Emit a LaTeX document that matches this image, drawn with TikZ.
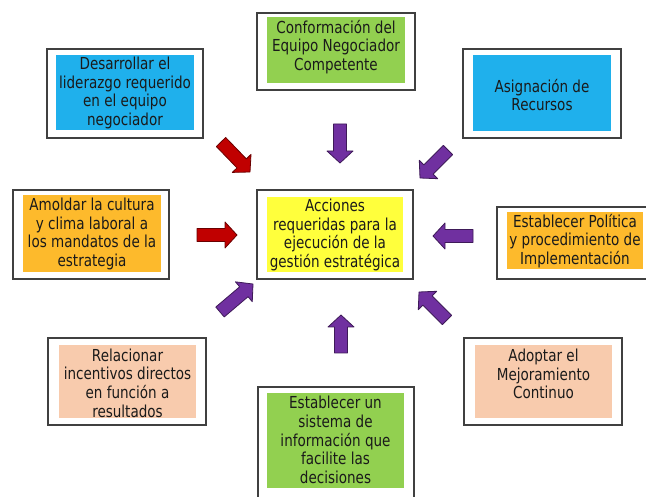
\documentclass[tikz,border=0pt]{standalone}
\usepackage{fontspec}
\setmainfont{DejaVu Sans}[FakeStretch=0.82]
\usetikzlibrary{calc}
\definecolor{cblue}{HTML}{1FB0EC}
\definecolor{cgreen}{HTML}{92D050}
\definecolor{cyellow}{HTML}{FFFF3C}
\definecolor{corange}{HTML}{FDBA2C}
\definecolor{cpeach}{HTML}{F8CBAD}
\definecolor{arrred}{HTML}{C00000}
\definecolor{arrpur}{HTML}{7030A0}
\definecolor{txtcol}{HTML}{1A1A1A}
\tikzset{
  outerbox/.style={draw=black!75, line width=1.2pt, fill=white},
  txt/.style={align=center, font=\fontsize{16.5}{18.6}\selectfont, text=txtcol, inner sep=0pt},
  redarr/.style={fill=arrred, draw=arrred!55!black, line width=0.8pt, line join=round},
  purarr/.style={fill=arrpur, draw=arrpur!55!black, line width=0.8pt, line join=round},
}
\newcommand{\blkarrow}[3]{%
  \path ($(#3)!12pt!(#2)$) coordinate (#2b);
  \draw[#1] ($(#2)!6.5pt!90:(#3)$) -- ($(#2b)!6.5pt!90:(#3)$) -- ($(#2b)!13pt!90:(#3)$)
    -- (#3) -- ($(#2b)!13pt!-90:(#3)$) -- ($(#2b)!6.5pt!-90:(#3)$) -- ($(#2)!6.5pt!-90:(#3)$) -- cycle;}
\begin{document}
\begin{tikzpicture}[x=1pt,y=-1pt]
\useasboundingbox (0,0) rectangle (646,497);
% boxes
\draw[outerbox] (47,49) rectangle (203,138);
\fill[cblue] (56,55) rectangle (194,130);
\node[txt] (lead) at (125,93) {Desarrollar el\\liderazgo requerido\\en el equipo\\negociador};

\draw[outerbox] (257,13) rectangle (415,90);
\fill[cgreen] (267,17) rectangle (405,83);
\node[txt] (conf) at (336,47) {Conformación del\\Equipo Negociador\\Competente};

\draw[outerbox] (463,49) rectangle (621,138);
\fill[cblue] (473,55) rectangle (611,131);
\node[txt] (asig) at (542,95) {Asignación de\\Recursos};

\draw[outerbox] (13,190) rectangle (169,279);
\fill[corange] (23,195) rectangle (161,272);
\node[txt] (amol) at (92,234) {Amoldar la cultura\\y clima laboral a\\los mandatos de la\\estrategia};

\draw[outerbox] (257,190) rectangle (413,279);
\fill[cyellow] (267,197) rectangle (403,272);
\node[txt] (acc) at (335,235) {Acciones\\requeridas para la\\ejecución de la\\gestión estratégica};

\draw[outerbox] (497,207) rectangle (650,279);
\fill[corange] (507,212) rectangle (643,269);
\node[txt] (pol) at (575,241) {Establecer Política\\y procedimiento de\\Implementación};

\draw[outerbox] (48,338) rectangle (206,425);
\fill[cpeach] (59,345) rectangle (196,418);
\node[txt] (rel) at (127.5,383) {Relacionar\\incentivos directos\\en función a\\resultados};

\draw[outerbox] (464,338) rectangle (622,425);
\fill[cpeach] (475,345) rectangle (612,418);
\node[txt] (adop) at (543.5,374) {Adoptar el\\Mejoramiento\\Continuo};

\draw[outerbox] (258,387) rectangle (414,510);
\fill[cgreen] (267,393) rectangle (404,488);
\node[txt] (sis) at (335.5,440) {Establecer un\\sistema de\\información que\\facilite las\\decisiones};

% arrows
\coordinate (t1) at (221,142); \coordinate (h1) at (250,172);
\coordinate (t2) at (340,124); \coordinate (h2) at (340,163);
\coordinate (t3) at (448,150); \coordinate (h3) at (420,178);
\coordinate (t4) at (197,235); \coordinate (h4) at (237,235);
\coordinate (t5) at (473,236); \coordinate (h5) at (433,236);
\coordinate (t6) at (220,312); \coordinate (h6) at (253,284);
\coordinate (t7) at (341,353); \coordinate (h7) at (341,315);
\coordinate (t8) at (447,320); \coordinate (h8) at (419,292);
\blkarrow{redarr}{t1}{h1}
\blkarrow{purarr}{t2}{h2}
\blkarrow{purarr}{t3}{h3}
\blkarrow{redarr}{t4}{h4}
\blkarrow{purarr}{t5}{h5}
\blkarrow{purarr}{t6}{h6}
\blkarrow{purarr}{t7}{h7}
\blkarrow{purarr}{t8}{h8}
\end{tikzpicture}
\end{document}
